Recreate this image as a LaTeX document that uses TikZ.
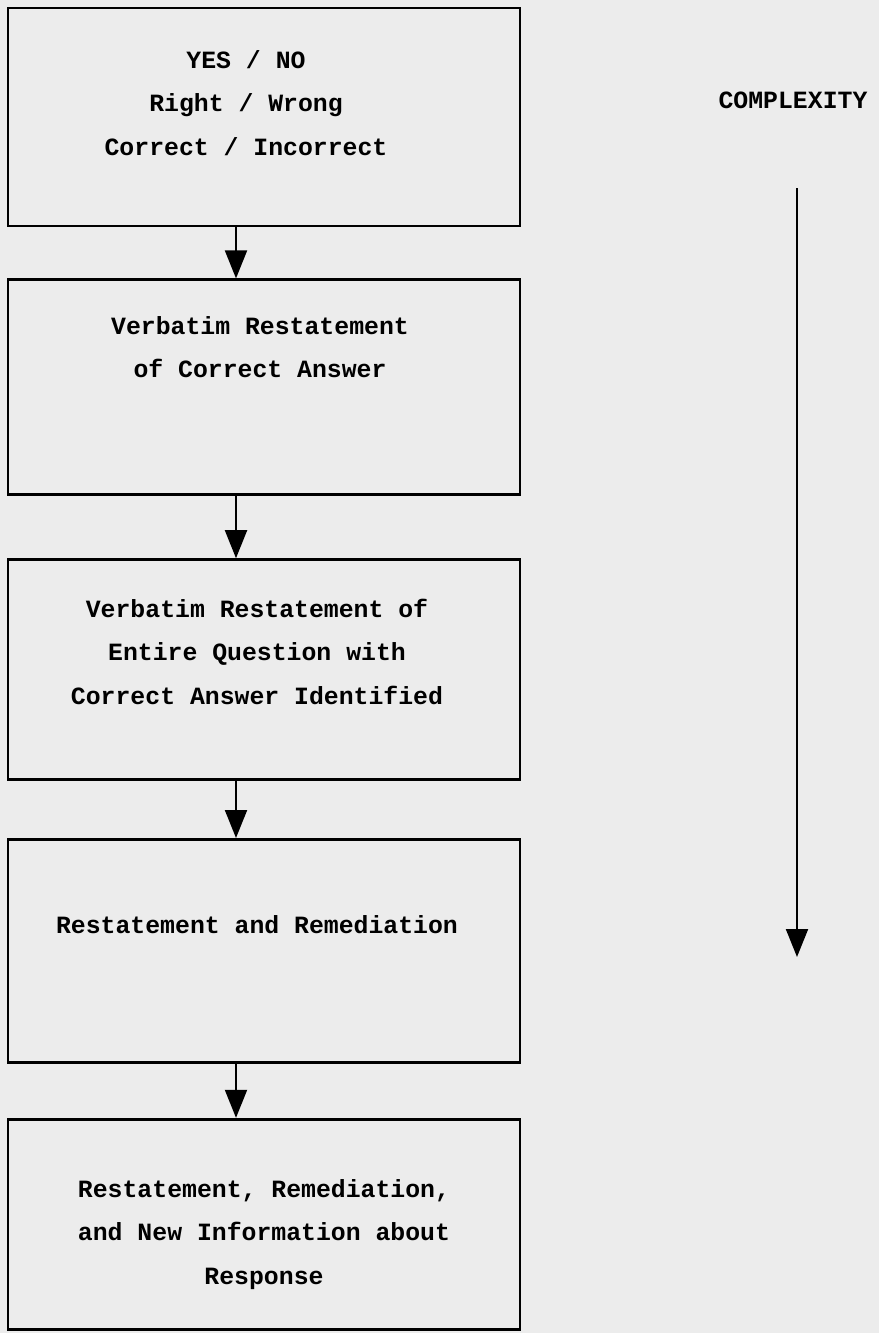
\documentclass[tikz,border=0pt]{standalone}
\usepackage{fontspec}
\newfontfamily\typefont{Liberation Mono}
\usetikzlibrary{arrows.meta,positioning}
\definecolor{paper}{RGB}{236,236,236}
\tikzset{
  flowbox/.style = {
    rectangle,
    draw,
    line width=1.4pt,
    inner sep=0pt,
    minimum width=256pt
  },
  flowtext/.style = {
    align=center,
    inner sep=0pt,
    font=\typefont\bfseries\fontsize{12.4}{21.75}\selectfont
  },
  flowarrow/.style = {
    -{Triangle[length=14pt,width=11pt]},
    line width=1pt
  }
}

\begin{document}
\begin{tikzpicture}[node distance=29pt]
    \fill[paper] (0,0) rectangle (439.5pt,-666.5pt);
    \useasboundingbox (0,0) rectangle (439.5pt,-666.5pt);
    % boxes, top to bottom
    \node[flowbox, minimum height=109pt] (b1) at (132pt,-58.5pt) {};
    \node[flowbox, minimum height=107.5pt, below=25.5pt of b1] (b2) {};
    \node[flowbox, minimum height=110pt, below=31pt of b2] (b3) {};
    \node[flowbox, minimum height=111.5pt, below=28.5pt of b3] (b4) {};
    \node[flowbox, minimum height=105pt, below=27pt of b4] (b5) {};
    % texts
    \node[flowtext] (t1) at ([xshift=-9pt,yshift=7pt]b1.center) {YES / NO\\Right / Wrong\\Correct / Incorrect};
    \node[flowtext] (t2) at ([xshift=-2pt,yshift=20pt]b2.center) {Verbatim Restatement\\of Correct Answer};
    \node[flowtext] (t3) at ([xshift=-3.5pt,yshift=9pt]b3.center) {Verbatim Restatement of\\Entire Question with\\Correct Answer Identified};
    \node[flowtext] (t4) at ([xshift=-3.5pt,yshift=13pt]b4.center) {Restatement and Remediation};
    \node[flowtext] (t5) at ([yshift=-5pt]b5.center) {Restatement, Remediation,\\and New Information about\\Response};
    \node[flowtext] (cx) at (396.5pt,-50pt) {COMPLEXITY};
    \coordinate (ctop) at (398.5pt,-94pt);
    \coordinate (cbot) at (398.5pt,-478.5pt);
    % connectors
    \draw[flowarrow] ([xshift=-14pt]b1.south) -- ([xshift=-14pt]b2.north);
    \draw[flowarrow] ([xshift=-14pt]b2.south) -- ([xshift=-14pt]b3.north);
    \draw[flowarrow] ([xshift=-14pt]b3.south) -- ([xshift=-14pt]b4.north);
    \draw[flowarrow] ([xshift=-14pt]b4.south) -- ([xshift=-14pt]b5.north);
    \draw[flowarrow] (ctop) -- (cbot);
\end{tikzpicture}
\end{document}
